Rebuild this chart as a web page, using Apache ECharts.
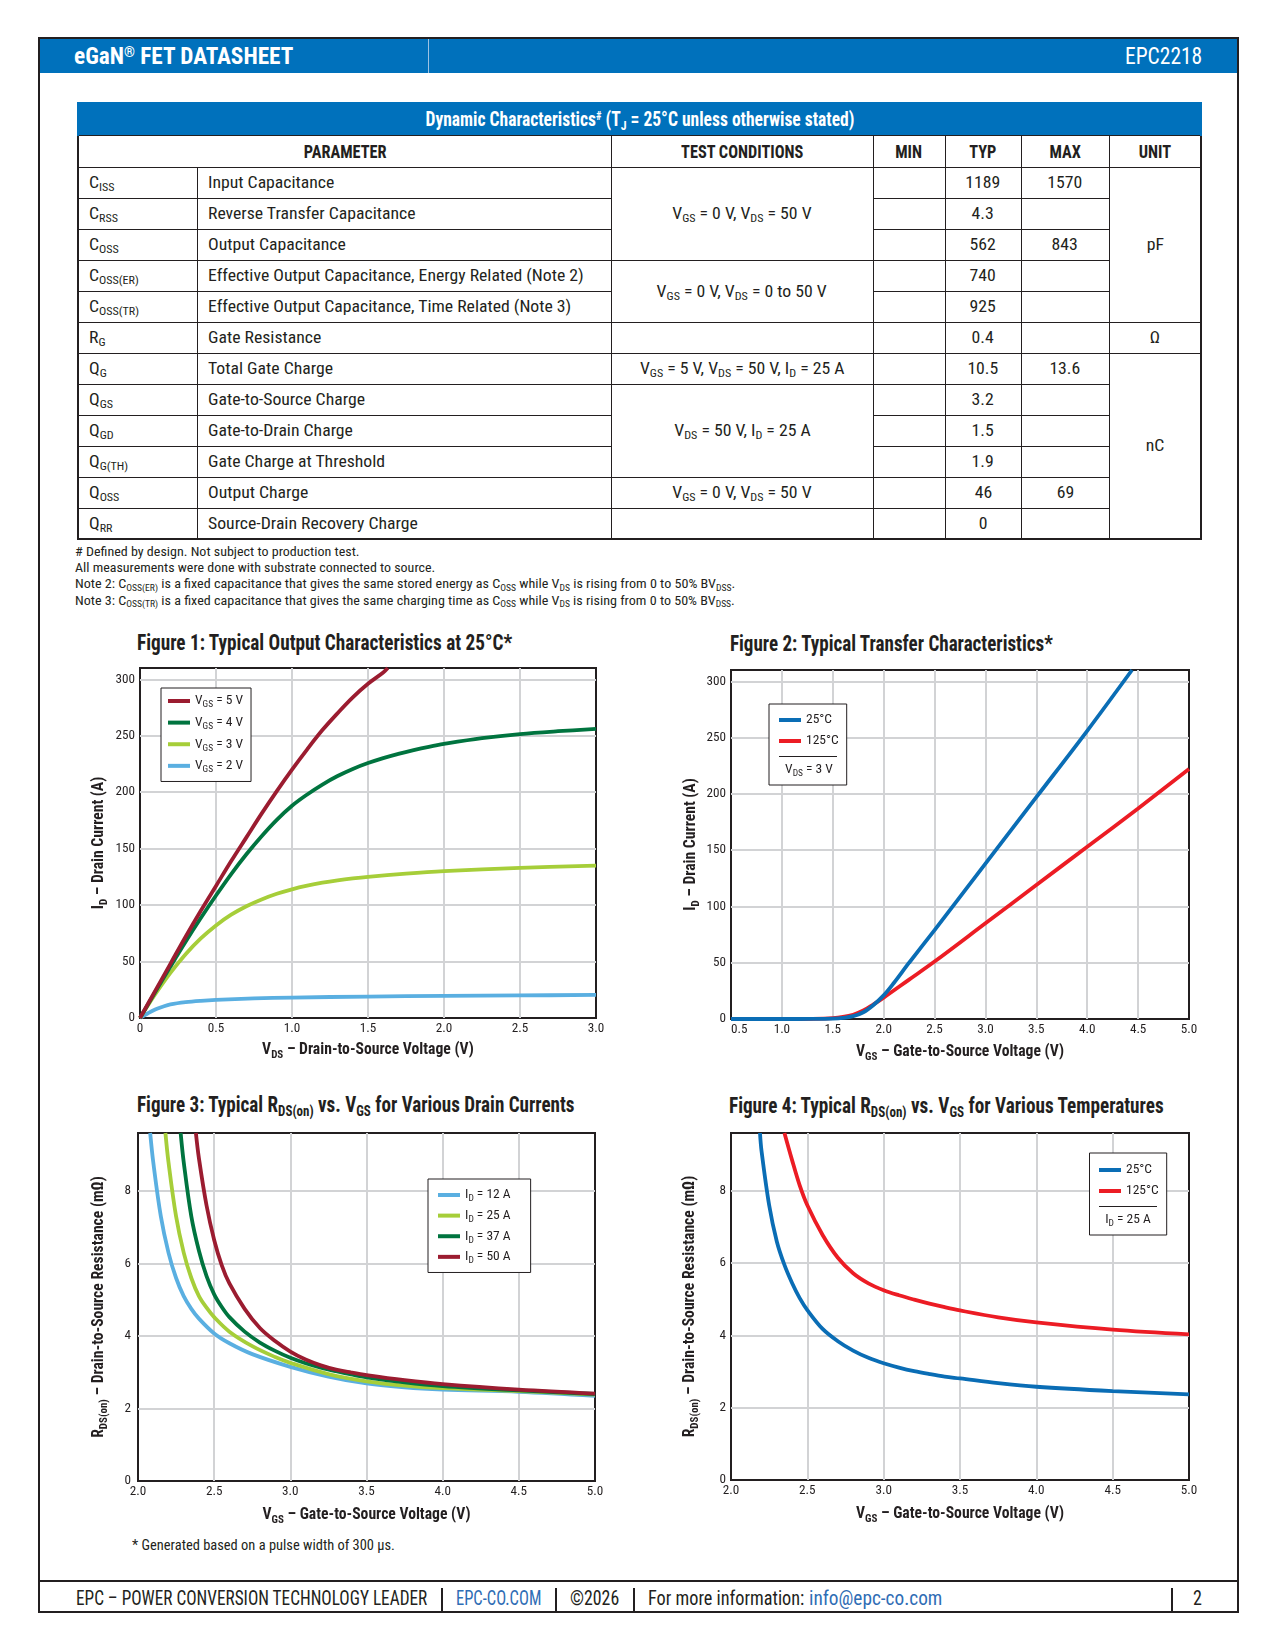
<!DOCTYPE html>
<html><head><meta charset="utf-8"><title>EPC2218 datasheet page 2</title>
<script src="https://cdn.jsdelivr.net/npm/echarts@6/dist/echarts.min.js"></script>
<style>
html,body{margin:0;padding:0;background:#fff}
body{width:1275px;height:1650px;position:relative;overflow:hidden;color:#231f20;font-family:"Roboto Condensed","Liberation Sans Narrow","DejaVu Sans Condensed",Roboto,sans-serif}
.a{position:absolute;white-space:nowrap}
.s{font-size:0.68em;position:relative;top:0.28em}
.sp{font-size:0.6em;position:relative;top:-0.5em}
#frame{position:absolute;left:38px;top:37px;width:1197px;height:1572px;border:2px solid #231f20}
#hdr{position:absolute;left:40px;top:39px;width:1197px;height:34px;background:#0071bc}
#hdrdiv{position:absolute;left:428px;top:39px;width:1px;height:34px;background:#9cc3e4}
#fline{position:absolute;left:40px;top:1580px;width:1197px;height:2px;background:#231f20}
.fsep{position:absolute;top:1588px;width:2px;height:23px;background:#231f20}
#tbl{position:absolute;left:77px;top:102px;width:1123px;border-collapse:collapse;table-layout:fixed;border:2px solid #231f20}
#tbl td{border:1px solid #231f20;padding:0;text-align:center;vertical-align:middle;white-space:nowrap;overflow:visible;line-height:1}
#tbl tr{height:31px}
#tbl tr.ttl,#tbl tr.hd{height:32px}
#tbl tr.ttl td{background:#0071bc;color:#fff;border:2px solid #0071bc;border-bottom:1px solid #231f20}
#tbl td.L{text-align:left;padding-left:10px}
span.c,span.l{display:inline-block;white-space:nowrap}
span.c{transform-origin:50% 50%}
span.l{transform-origin:0 50%}
.b{font-size:17px}
.h{font-size:19px;font-weight:bold}
.tt{font-size:20px;font-weight:bold}
#chart{position:absolute;left:0;top:0;width:1275px;height:1650px;z-index:5;pointer-events:none}
</style></head>
<body>
<div id="frame"></div>
<div id="hdr"></div>
<div id="hdrdiv"></div>
<div id="fline"></div>
<div class="fsep" style="left:441px"></div>
<div class="fsep" style="left:555px"></div>
<div class="fsep" style="left:633px"></div>
<div class="fsep" style="left:1171px"></div>

<table id="tbl">
<colgroup><col style="width:119px"><col style="width:414px"><col style="width:262px"><col style="width:72px"><col style="width:76px"><col style="width:88px"><col style="width:92px"></colgroup>
<tr class="ttl"><td colspan="7"><span class="c tt" id="refT">Dynamic Characteristics<span class="sp">#</span> (T<span class="s">J</span> = 25°C unless otherwise stated)</span></td></tr>
<tr class="hd"><td colspan="2"><span class="c h">PARAMETER</span></td><td><span class="c h" id="refH">TEST CONDITIONS</span></td><td><span class="c h">MIN</span></td><td><span class="c h">TYP</span></td><td><span class="c h">MAX</span></td><td><span class="c h">UNIT</span></td></tr>
<tr><td class="L"><span class="l b">C<span class="s">ISS</span></span></td><td class="L"><span class="l b">Input Capacitance</span></td><td rowspan="3"><span class="c b">V<span class="s">GS</span> = 0 V, V<span class="s">DS</span> = 50 V</span></td><td></td><td><span class="c b">1189</span></td><td><span class="c b">1570</span></td><td rowspan="5"><span class="c b">pF</span></td></tr>
<tr><td class="L"><span class="l b">C<span class="s">RSS</span></span></td><td class="L"><span class="l b">Reverse Transfer Capacitance</span></td><td></td><td><span class="c b">4.3</span></td><td></td></tr>
<tr><td class="L"><span class="l b">C<span class="s">OSS</span></span></td><td class="L"><span class="l b">Output Capacitance</span></td><td></td><td><span class="c b">562</span></td><td><span class="c b">843</span></td></tr>
<tr><td class="L"><span class="l b">C<span class="s">OSS(ER)</span></span></td><td class="L"><span class="l b" id="refB">Effective Output Capacitance, Energy Related (Note 2)</span></td><td rowspan="2"><span class="c b">V<span class="s">GS</span> = 0 V, V<span class="s">DS</span> = 0 to 50 V</span></td><td></td><td><span class="c b">740</span></td><td></td></tr>
<tr><td class="L"><span class="l b">C<span class="s">OSS(TR)</span></span></td><td class="L"><span class="l b">Effective Output Capacitance, Time Related (Note 3)</span></td><td></td><td><span class="c b">925</span></td><td></td></tr>
<tr><td class="L"><span class="l b">R<span class="s">G</span></span></td><td class="L"><span class="l b">Gate Resistance</span></td><td></td><td></td><td><span class="c b">0.4</span></td><td></td><td><span class="c b">Ω</span></td></tr>
<tr><td class="L"><span class="l b">Q<span class="s">G</span></span></td><td class="L"><span class="l b">Total Gate Charge</span></td><td><span class="c b">V<span class="s">GS</span> = 5 V, V<span class="s">DS</span> = 50 V, I<span class="s">D</span> = 25 A</span></td><td></td><td><span class="c b">10.5</span></td><td><span class="c b">13.6</span></td><td rowspan="6"><span class="c b">nC</span></td></tr>
<tr><td class="L"><span class="l b">Q<span class="s">GS</span></span></td><td class="L"><span class="l b">Gate-to-Source Charge</span></td><td rowspan="3"><span class="c b">V<span class="s">DS</span> = 50 V, I<span class="s">D</span> = 25 A</span></td><td></td><td><span class="c b">3.2</span></td><td></td></tr>
<tr><td class="L"><span class="l b">Q<span class="s">GD</span></span></td><td class="L"><span class="l b">Gate-to-Drain Charge</span></td><td></td><td><span class="c b">1.5</span></td><td></td></tr>
<tr><td class="L"><span class="l b">Q<span class="s">G(TH)</span></span></td><td class="L"><span class="l b">Gate Charge at Threshold</span></td><td></td><td><span class="c b">1.9</span></td><td></td></tr>
<tr><td class="L"><span class="l b">Q<span class="s">OSS</span></span></td><td class="L"><span class="l b">Output Charge</span></td><td><span class="c b">V<span class="s">GS</span> = 0 V, V<span class="s">DS</span> = 50 V</span></td><td></td><td><span class="c b">46</span></td><td><span class="c b">69</span></td></tr>
<tr><td class="L"><span class="l b">Q<span class="s">RR</span></span></td><td class="L"><span class="l b">Source-Drain Recovery Charge</span></td><td></td><td></td><td><span class="c b">0</span></td><td></td></tr>
</table>

<div id="chart"></div>

<script>
// ================= DATA =================
// Figure 1: Typical Output Characteristics at 25°C  (x: VDS [V], y: ID [A])
const out_xTicks = [0, 0.5, 1.0, 1.5, 2.0, 2.5, 3.0];
const out_yTicks = [0, 50, 100, 150, 200, 250, 300];
const out_yMax = 310;
const out_names = ['V_{GS} = 5 V', 'V_{GS} = 4 V', 'V_{GS} = 3 V', 'V_{GS} = 2 V'];
const out_vgs5 = [[0,0],[0.1,24],[0.2,48],[0.3,72],[0.4,95],[0.5,117],[0.6,139],[0.7,160],[0.8,181],[0.9,201],[1.0,220],[1.1,238],[1.2,255],[1.3,270],[1.4,284],[1.5,296],[1.6,306],[1.63,310]];
const out_vgs4 = [[0,0],[0.1,23],[0.2,45.5],[0.3,67.5],[0.4,88.5],[0.5,108.5],[0.6,127.5],[0.7,145],[0.8,161],[0.9,175.5],[1.0,188],[1.1,198],[1.2,206.8],[1.3,214.3],[1.4,220.6],[1.5,225.8],[1.6,230.2],[1.7,234],[1.8,237.3],[1.9,240.2],[2.0,242.7],[2.25,247.8],[2.5,251.5],[2.75,254],[3.0,256]];
const out_vgs3 = [[0,0],[0.1,21],[0.2,40],[0.3,56.5],[0.4,70.5],[0.5,82],[0.6,91.5],[0.7,99],[0.8,105],[0.9,110],[1.0,114],[1.1,117.2],[1.2,119.8],[1.3,121.9],[1.4,123.6],[1.5,125],[1.75,127.8],[2.0,130],[2.5,133],[3.0,135]];
const out_vgs2 = [[0,0],[0.05,4],[0.1,7.5],[0.15,10],[0.2,12],[0.3,14],[0.4,15.2],[0.5,16],[0.75,17.3],[1.0,18.1],[1.5,19],[2.0,19.6],[2.5,20],[3.0,20.4]];

// Figure 2: Typical Transfer Characteristics (x: VGS [V], y: ID [A]), VDS = 3 V
const tr_xTicks = [0.5, 1.0, 1.5, 2.0, 2.5, 3.0, 3.5, 4.0, 4.5, 5.0];
const tr_yTicks = [0, 50, 100, 150, 200, 250, 300];
const tr_yMax = 310;
const tr_names = ['25°C', '125°C'];
const tr_25C = [[0.5,0],[1.0,0],[1.3,0.1],[1.5,0.4],[1.6,1.0],[1.7,2.5],[1.8,6],[1.9,12.5],[2.0,21],[2.1,32],[2.25,50],[2.5,79],[3.0,138],[3.5,197],[4.0,256],[4.44,310]];
const tr_125C = [[0.5,0],[1.0,0],[1.3,0.2],[1.5,0.8],[1.6,1.8],[1.7,3.8],[1.8,7.5],[1.9,13],[2.0,19],[2.25,35],[2.5,51],[3.0,85],[3.5,119],[4.0,153],[4.5,187],[5.0,222]];

// Figure 3: RDS(on) vs VGS for various drain currents (x: VGS [V], y: RDS(on) [mΩ])
const rds_xTicks = [2.0, 2.5, 3.0, 3.5, 4.0, 4.5, 5.0];
const rds_yTicks = [0, 2, 4, 6, 8];
const rds_yMax = 9.6;
const rdsI_names = ['I_{D} = 12 A', 'I_{D} = 25 A', 'I_{D} = 37 A', 'I_{D} = 50 A'];
const rds_12A = [[2.08,9.6],[2.1,8.8],[2.15,7.3],[2.2,6.3],[2.25,5.6],[2.3,5.1],[2.35,4.75],[2.4,4.48],[2.5,4.07],[2.6,3.8],[2.75,3.5],[3.0,3.15],[3.25,2.88],[3.5,2.69],[3.75,2.58],[4.0,2.52],[4.5,2.46],[5.0,2.35]];
const rds_25A = [[2.18,9.6],[2.2,8.8],[2.25,7.3],[2.3,6.3],[2.35,5.6],[2.4,5.1],[2.45,4.78],[2.5,4.52],[2.6,4.12],[2.75,3.72],[2.9,3.42],[3.0,3.26],[3.25,2.95],[3.5,2.75],[3.75,2.63],[4.0,2.56],[4.5,2.48],[5.0,2.38]];
const rds_37A = [[2.28,9.6],[2.3,8.8],[2.35,7.3],[2.4,6.35],[2.45,5.65],[2.5,5.15],[2.55,4.8],[2.6,4.52],[2.7,4.12],[2.8,3.82],[2.9,3.59],[3.0,3.4],[3.1,3.25],[3.2,3.13],[3.3,3.03],[3.4,2.94],[3.5,2.86],[3.75,2.72],[4.0,2.62],[4.5,2.5],[5.0,2.4]];
const rds_50A = [[2.38,9.6],[2.4,8.9],[2.45,7.6],[2.5,6.65],[2.55,5.95],[2.6,5.45],[2.7,4.75],[2.8,4.22],[2.9,3.86],[3.0,3.57],[3.1,3.35],[3.2,3.19],[3.3,3.07],[3.4,2.99],[3.5,2.92],[3.75,2.78],[4.0,2.67],[4.5,2.52],[5.0,2.41]];

// Figure 4: RDS(on) vs VGS for various temperatures, ID = 25 A
const rdsT_names = ['25°C', '125°C'];
const rdsT_25C = [[2.19,9.6],[2.2,9.1],[2.25,7.6],[2.3,6.6],[2.35,5.95],[2.4,5.45],[2.45,5.03],[2.5,4.7],[2.6,4.18],[2.7,3.84],[2.8,3.58],[2.9,3.38],[3.0,3.23],[3.1,3.11],[3.2,3.01],[3.3,2.93],[3.4,2.86],[3.5,2.81],[3.75,2.68],[4.0,2.58],[4.5,2.46],[5.0,2.37]];
const rdsT_125C = [[2.35,9.6],[2.4,8.85],[2.45,8.15],[2.5,7.6],[2.6,6.78],[2.7,6.15],[2.8,5.72],[2.9,5.44],[3.0,5.25],[3.1,5.11],[3.2,4.99],[3.3,4.88],[3.4,4.78],[3.5,4.69],[3.75,4.5],[4.0,4.36],[4.5,4.16],[5.0,4.03]];

// ================= FONT DETECTION =================
const mctx = document.createElement('canvas').getContext('2d');
function hasFont(f) {
  const s = 'mmmmmmmmmmlli WQ@#0123456789abcdef';
  mctx.font = '72px monospace'; const a = mctx.measureText(s).width;
  mctx.font = '72px "' + f + '", monospace'; const b = mctx.measureText(s).width;
  mctx.font = '72px serif'; const a2 = mctx.measureText(s).width;
  mctx.font = '72px "' + f + '", serif'; const b2 = mctx.measureText(s).width;
  return a !== b && a2 !== b2;
}
const CANDS = ['Roboto Condensed', 'Liberation Sans Narrow', 'DejaVu Sans Condensed', 'Roboto', 'Noto Sans'];
const FOUND = CANDS.filter(hasFont);
const CF = FOUND.length ? FOUND[0] : 'sans-serif';
document.body.style.fontFamily = '"' + CF + '", sans-serif';

// ================= HTML TEXT =================
function place(h, x, cy, w, size, bold, color) {
  const d = document.createElement('div');
  d.className = 'a';
  d.innerHTML = h;
  d.style.left = x + 'px';
  d.style.top = (cy - size * 0.6) + 'px';
  d.style.fontSize = size + 'px';
  d.style.lineHeight = (size * 1.2) + 'px';
  d.style.fontWeight = bold ? 'bold' : 'normal';
  d.style.color = color || '#231f20';
  document.body.appendChild(d);
  const ow = d.offsetWidth;
  if (ow > 0 && w) { d.style.transformOrigin = '0 50%'; d.style.transform = 'scaleX(' + (w / ow) + ')'; }
  return d;
}
const S = (t) => '<span class="s">' + t + '</span>';
place('eGaN<span class="sp">®</span> FET DATASHEET', 73.6, 56.5, 219, 24, true, '#fff');
place('EPC2218', 1124.6, 56.5, 77, 24, false, '#fff');
place('# Defined by design. Not subject to production test.', 75, 552, 285, 13, false);
place('All measurements were done with substrate connected to source.', 75, 567.5, 360, 13, false);
place('Note 2: C' + S('OSS(ER)') + ' is a fixed capacitance that gives the same stored energy as C' + S('OSS') + ' while V' + S('DS') + ' is rising from 0 to 50% BV' + S('DSS') + '.', 75, 584, 660, 13, false);
place('Note 3: C' + S('OSS(TR)') + ' is a fixed capacitance that gives the same charging time as C' + S('OSS') + ' while V' + S('DS') + ' is rising from 0 to 50% BV' + S('DSS') + '.', 75, 600.5, 660, 13, false);
place('Figure 1: Typical Output Characteristics at 25°C*', 136.8, 643, 375, 22, true);
place('Figure 2: Typical Transfer Characteristics*', 730, 644, 323, 22, true);
place('Figure 3: Typical R' + S('DS(on)') + ' vs. V' + S('GS') + ' for Various Drain Currents', 136.8, 1105, 437, 22, true);
place('Figure 4: Typical R' + S('DS(on)') + ' vs. V' + S('GS') + ' for Various Temperatures', 729, 1106, 435, 22, true);
place('* Generated based on a pulse width of 300 µs.', 131.5, 1545, 263, 15, false);
place('EPC – POWER CONVERSION TECHNOLOGY LEADER', 76, 1598, 351, 20, false);
place('EPC-CO.COM', 456, 1598, 85, 20, false, '#2f6db5');
place('©2026', 570, 1598, 49, 20, false);
place('For more information:', 648, 1598, 156, 20, false);
place('info@epc-co.com', 809, 1598, 133, 20, false, '#2f6db5');
place('2', 1193, 1598, 9, 20, false);

function fitClass(sel, refId, target) {
  const r = document.getElementById(refId).offsetWidth;
  const k = target / r;
  document.querySelectorAll(sel).forEach(el => { el.style.transform = 'scaleX(' + k + ')'; });
}
fitClass('#tbl span.b', 'refB', 376);
fitClass('#tbl span.h', 'refH', 122);
fitClass('#tbl span.tt', 'refT', 429);

// ================= ECHARTS =================
function toks(s) {
  const out = []; const re = /_\{([^}]*)\}/g; let last = 0, m;
  while ((m = re.exec(s))) { if (m.index > last) out.push([s.slice(last, m.index), false]); out.push([m[1], true]); last = re.lastIndex; }
  if (last < s.length) out.push([s.slice(last), false]);
  return out;
}
function rich(s) { return toks(s).map(t => '{' + (t[1] ? 's' : 'm') + '|' + t[0] + '}').join(''); }
function measure(s, size, bold) {
  let w = 0;
  for (const [t, sub] of toks(s)) { mctx.font = (bold ? 'bold ' : '') + (sub ? size * 0.7 : size) + 'px "' + CF + '"'; w += mctx.measureText(t).width; }
  return w;
}
function fitSize(s, target, bold, lo, hi) { const v = target / measure(s, 100, bold) * 100; return Math.max(lo, Math.min(hi, v)); }
function richStyles(size, bold, L) {
  L = L || Math.round(size * 1.25);
  const h = Math.max(2, L - 0.61 * size);
  const fw = bold ? 'bold' : 'normal';
  return {
    m: { fontSize: size, fontWeight: fw, fontFamily: CF, color: '#231f20', lineHeight: L },
    s: { fontSize: size * 0.7, fontWeight: fw, fontFamily: CF, color: '#231f20', lineHeight: L, height: h, verticalAlign: 'bottom' }
  };
}
const TS = fitSize('300', 19.5, false, 12.5, 15);
const NS = fitSize('V_{DS} – Drain-to-Source Voltage (V)', 212, true, 14, 19);
const LS = fitSize('125°C', 32, false, 13.5, 17);
const NL = Math.round(NS * 1.25);
const NR = richStyles(NS, true, NL);
const LG = richStyles(LS, false, 16);

const grids = [
  { left: 140, top: 668, width: 456, height: 350 },
  { left: 731, top: 670, width: 458, height: 349 },
  { left: 138, top: 1133, width: 457, height: 348 },
  { left: 731, top: 1133, width: 458, height: 347 }
].map(g => Object.assign({ show: true, borderColor: '#231f20', borderWidth: 2, backgroundColor: 'transparent' }, g));

const splitL = { show: true, showMinLine: false, showMaxLine: false, lineStyle: { color: '#d2d3d5', width: 2 } };
function xAx(gi, ticks, fmt, name, centerGap, alignMin) {
  const ax = {
    type: 'value', gridIndex: gi, min: ticks[0], max: ticks[ticks.length - 1], interval: ticks[1] - ticks[0],
    axisLine: { show: false }, axisTick: { show: false }, splitLine: splitL,
    axisLabel: { fontFamily: CF, fontSize: TS, color: '#231f20', margin: 4, formatter: fmt },
    name: rich(name), nameLocation: 'middle', nameGap: centerGap - NL / 2,
    nameTextStyle: { rich: NR, fontFamily: CF, fontSize: NS, fontWeight: 'bold', color: '#231f20' }
  };
  if (alignMin) ax.axisLabel.alignMinLabel = alignMin;
  return ax;
}
function yAx(gi, ticks, max, name, centerGap, margin) {
  return {
    type: 'value', gridIndex: gi, min: ticks[0], max: max, interval: ticks[1] - ticks[0],
    axisLine: { show: false }, axisTick: { show: false }, splitLine: splitL,
    axisLabel: { fontFamily: CF, fontSize: TS, color: '#231f20', margin: margin, showMaxLabel: false, formatter: v => String(v) },
    name: rich(name), nameLocation: 'middle', nameGap: centerGap - NL / 2,
    nameTextStyle: { rich: NR, fontFamily: CF, fontSize: NS, fontWeight: 'bold', color: '#231f20' }
  };
}
const f1 = v => (v === 0 ? '0' : v.toFixed(1));
const f2 = v => v.toFixed(1);

function line(name, data, color, gi) {
  return {
    type: 'line', name: name, data: data, xAxisIndex: gi, yAxisIndex: gi,
    showSymbol: false, smooth: 0.35, color: color, itemStyle: { color: color },
    lineStyle: { color: color, width: 3.8 }, emphasis: { disabled: true }, z: 3
  };
}
const C = { dred: '#9b1c30', dgreen: '#00743f', lgreen: '#a6ce39', lblue: '#5aafe1', blue: '#0a6db5', red: '#ec1c24' };

function legend(left, top, padding, gap, names) {
  return {
    orient: 'vertical', left: left, top: top, padding: padding, itemGap: gap,
    itemWidth: 22, itemHeight: 4, icon: 'rect', borderColor: '#231f20', borderWidth: 1,
    backgroundColor: '#ffffff', selectedMode: false, data: names,
    formatter: n => rich(n), textStyle: { rich: LG, fontFamily: CF, fontSize: LS, color: '#231f20', lineHeight: 16 }
  };
}
function noteText(x, y, s) {
  return { type: 'text', x: x, y: y, z: 20,
    style: { text: rich(s), rich: LG, fill: '#231f20', font: LS + 'px "' + CF + '"', align: 'center', verticalAlign: 'middle', textAlign: 'center', textVerticalAlign: 'middle' } };
}
function sepLine(x1, x2, y) {
  return { type: 'line', z: 20, shape: { x1: x1, y1: y, x2: x2, y2: y }, style: { stroke: '#231f20', lineWidth: 1 } };
}

const option = {
  animation: false,
  grid: grids,
  xAxis: [
    xAx(0, out_xTicks, f1, 'V_{DS} – Drain-to-Source Voltage (V)', 32),
    xAx(1, tr_xTicks, f2, 'V_{GS} – Gate-to-Source Voltage (V)', 33, 'left'),
    xAx(2, rds_xTicks, f2, 'V_{GS} – Gate-to-Source Voltage (V)', 34),
    xAx(3, rds_xTicks, f2, 'V_{GS} – Gate-to-Source Voltage (V)', 34)
  ],
  yAxis: [
    yAx(0, out_yTicks, out_yMax, 'I_{D} – Drain Current (A)', 41, 5),
    yAx(1, tr_yTicks, tr_yMax, 'I_{D} – Drain Current (A)', 40, 5),
    yAx(2, rds_yTicks, rds_yMax, 'R_{DS(on)} – Drain-to-Source Resistance (mΩ)', 39, 7),
    yAx(3, rds_yTicks, rds_yMax, 'R_{DS(on)} – Drain-to-Source Resistance (mΩ)', 41, 5)
  ],
  legend: [
    legend(161, 688, [5, 8, 7, 7], 5, out_names),
    legend(769, 704, [8, 8, 36, 10], 5, tr_names),
    legend(428, 1179, [8, 20, 7, 10], 4, rdsI_names),
    legend(1089.5, 1153, [9, 8, 36, 9.5], 5, rdsT_names)
  ],
  graphic: [
    sepLine(779, 837, 756.5), noteText(809, 770, 'V_{DS} = 3 V'),
    sepLine(1099, 1157, 1206.5), noteText(1128, 1220, 'I_{D} = 25 A')
  ],
  series: [
    line(out_names[3], out_vgs2, C.lblue, 0),
    line(out_names[2], out_vgs3, C.lgreen, 0),
    line(out_names[1], out_vgs4, C.dgreen, 0),
    line(out_names[0], out_vgs5, C.dred, 0),
    line(tr_names[1], tr_125C, C.red, 1),
    line(tr_names[0], tr_25C, C.blue, 1),
    line(rdsI_names[0], rds_12A, C.lblue, 2),
    line(rdsI_names[1], rds_25A, C.lgreen, 2),
    line(rdsI_names[2], rds_37A, C.dgreen, 2),
    line(rdsI_names[3], rds_50A, C.dred, 2),
    line(rdsT_names[1], rdsT_125C, C.red, 3),
    line(rdsT_names[0], rdsT_25C, C.blue, 3)
  ]
};
const chart = echarts.init(document.getElementById('chart'), null, { renderer: 'canvas', width: 1275, height: 1650 });
chart.setOption(option);
</script>
</body></html>
